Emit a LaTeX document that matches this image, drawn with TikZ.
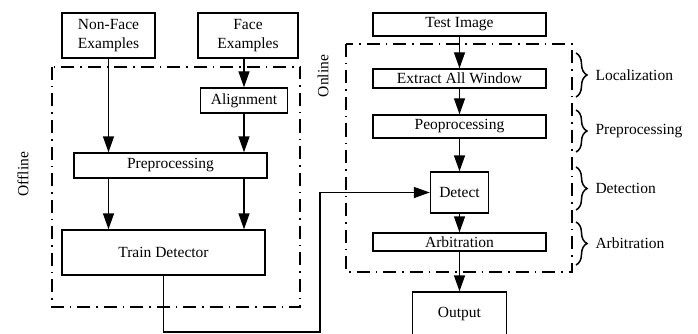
\documentclass[tikz,border=0pt]{standalone}
\usepackage{fontspec}
\setmainfont{Liberation Serif}
\usetikzlibrary{arrows.meta,decorations.pathreplacing,positioning}

\begin{document}
\begin{tikzpicture}[x=1pt,y=-1pt,>={Triangle[length=16pt,width=11pt]},
                    font=\fontsize{15.5}{19}\selectfont,
                    blk/.style={draw,line width=1.4pt,inner sep=0pt,align=center},
                    arr/.style={->,line width=1.4pt},
                    zone/.style={line width=1.5pt,dash pattern=on 13pt off 6pt on 1.5pt off 6pt},
                    brc/.style={decorate,decoration={brace,amplitude=11pt},line width=1.5pt}]
  \useasboundingbox (0,0) rectangle (698,334);
  % offline part
  \draw[zone] (52,67) rectangle (300,307);
  \node[rotate=90] (offl) at (23,174) {Offline};
  \node[blk,minimum width=93pt,minimum height=45pt] (nonface) at (108.5,35.5) {Non-Face\\Examples};
  \node[blk,minimum width=100pt,minimum height=45pt] (face) at (248,35.5) {Face\\Examples};
  \node[blk,minimum width=87pt,minimum height=25pt] (align) at (244,100.5) {Alignment};
  \node[blk,minimum width=193pt,minimum height=25pt] (prepl) at (170.5,165.5) {Preprocessing};
  \node[blk,minimum width=203pt,minimum height=45pt] (train) at (163.5,252.5) {Train Detector};
  \draw[arr] (nonface.south) -- (nonface.south |- prepl.north);
  \draw[arr] (face.south -| align.north) -- (align.north);
  \draw[arr] (align.south) -- (align.south |- prepl.north);
  \draw[arr] (prepl.south -| nonface.south) -- (nonface.south |- train.north);
  \draw[arr] (prepl.south -| align.south) -- (align.south |- train.north);
  % online part
  \draw[zone] (346,44) rectangle (572,272);
  \node[rotate=90] (onl) at (323,76) {Online};
  \node[blk,minimum width=173pt,minimum height=23pt] (test) at (459.5,24.5) {Test Image};
  \node[blk,minimum width=173pt,minimum height=19pt] (extract) at (459.5,78.5) {Extract All Window};
  \node[blk,minimum width=173pt,minimum height=23pt] (peop) at (459.5,126.5) {Peoprocessing};
  \node[blk,minimum width=58pt,minimum height=41pt] (detect) at (459.5,192.5) {Detect};
  \node[blk,minimum width=173pt,minimum height=18pt] (arb) at (459.5,242) {Arbitration};
  \node[blk,minimum width=94pt,minimum height=44pt] (output) at (459.5,314) {Output};
  \draw[arr] (test) -- (extract);
  \draw[arr] (extract) -- (peop);
  \draw[arr] (peop) -- (detect);
  \draw[arr] (detect) -- (arb);
  \draw[arr] (arb) -- (output);
  % detector feeds the online detection
  \draw[arr] (train.south) |- (320,332) |- (detect.west);
  % stage braces
  \draw[brc] (576,53) -- (576,97);
  \draw[brc] (576,110) -- (576,152);
  \draw[brc] (576,167) -- (576,210);
  \draw[brc] (576,222) -- (576,265);
  \node[anchor=west] (loc) at (592,75) {Localization};
  \node[anchor=west] (pre) at (592,131) {Preprocessing};
  \node[anchor=west] (det) at (592,188.5) {Detection};
  \node[anchor=west] (arbl) at (592,243.5) {Arbitration};
\end{tikzpicture}
\end{document}
